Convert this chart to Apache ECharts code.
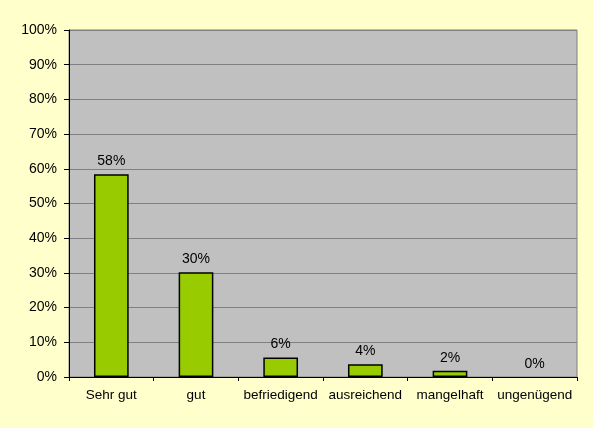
<!DOCTYPE html>
<html><head><meta charset="utf-8">
<script src="https://cdn.jsdelivr.net/npm/echarts@6/dist/echarts.min.js"></script>
<style>html,body{margin:0;padding:0;background:#fff;}#c{width:593px;height:428px;}</style>
</head><body><div id="c"></div>
<script>
const categories = ['Sehr gut','gut','befriedigend','ausreichend','mangelhaft','ungenügend'];
const values = [58.4, 30.2, 5.6, 3.7, 1.8, 0];
const yTicks = [0,10,20,30,40,50,60,70,80,90,100];

const chart = echarts.init(document.getElementById('c'));
chart.setOption({
  backgroundColor: '#FFFFCC',
  animation: false,
  grid: { left: 69, top: 30, right: 16, bottom: 51, show: true, backgroundColor: '#C0C0C0', borderColor: '#808080', borderWidth: 1 },
  xAxis: {
    type: 'category', data: categories,
    axisLine: { lineStyle: { color: '#000', width: 1 } },
    axisTick: { show: true, length: 4, alignWithLabel: false, lineStyle: { color: '#000' } },
    axisLabel: { color: '#000', fontFamily: 'Liberation Sans, Arial', fontSize: 13.5, margin: 11, interval: 0 }
  },
  yAxis: {
    type: 'value', min: 0, max: 100, interval: 10,
    axisLine: { show: true, lineStyle: { color: '#000', width: 1 } },
    axisTick: { show: true, length: 5, lineStyle: { color: '#000' } },
    splitLine: { lineStyle: { color: '#808080', width: 1 } },
    axisLabel: { color: '#000', fontFamily: 'Liberation Sans, Arial', fontSize: 14, margin: 12, formatter: v => yTicks.includes(v) ? v + '%' : '' }
  },
  series: [{
    type: 'bar',
    data: values.map(v => ({ value: v, itemStyle: { borderWidth: v === 0 ? 0 : 1.5 } })),
    barWidth: '41%',
    itemStyle: { color: '#99CC00', borderColor: '#000', borderWidth: 1.5 },
    label: { show: true, position: 'top', distance: 6, color: '#000', fontFamily: 'Liberation Sans, Arial', fontSize: 14,
      formatter: p => Math.round(p.value) + '%' }
  }]
});
</script></body></html>
